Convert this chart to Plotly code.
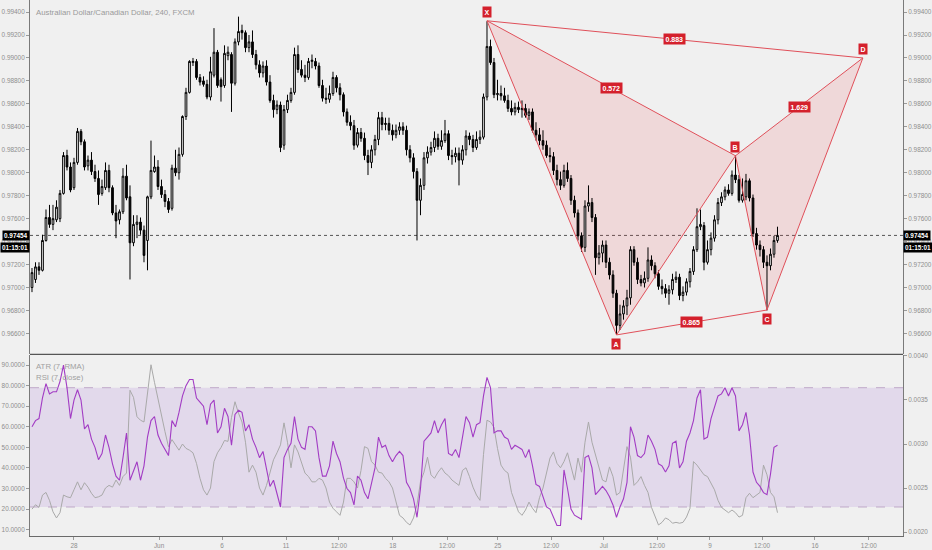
import plotly.graph_objects as go

title_text = "Australian Dollar/Canadian Dollar, 240, FXCM"
legend_texts = ["ATR (7, RMA)", "RSI (7, close)"]

# 4h candles, prices in units of 0.0001 (9700 -> 0.9700)
open_1e4 = [
    9700, 9707, 9718, 9715, 9741, 9761, 9755, 9759, 9760, 9782,
    9815, 9805, 9787, 9809, 9836, 9827, 9806, 9811, 9801, 9795,
    9782, 9787, 9802, 9787, 9765, 9759, 9766, 9797, 9779, 9739,
    9755, 9757, 9750, 9741, 9779, 9801, 9805, 9788, 9781, 9775,
    9769, 9804, 9800, 9816, 9849, 9870, 9896, 9897, 9883, 9880,
    9877, 9866, 9885, 9905, 9881, 9876, 9902, 9903, 9878, 9914,
    9924, 9922, 9909, 9914, 9903, 9894, 9887, 9893, 9879, 9863,
    9855, 9859, 9824, 9855, 9863, 9870, 9903, 9890, 9885, 9883,
    9897, 9897, 9893, 9876, 9865, 9864, 9869, 9883, 9874, 9868,
    9853, 9844, 9841, 9824, 9835, 9830, 9815, 9809, 9820, 9829,
    9848, 9842, 9843, 9837, 9833, 9837, 9840, 9837, 9820, 9813,
    9801, 9776, 9789, 9813, 9818, 9822, 9830, 9823, 9828, 9834,
    9815, 9814, 9817, 9811, 9820, 9832, 9829, 9822, 9829, 9831,
    9866, 9910, 9896, 9868, 9869, 9867, 9863, 9856, 9853, 9857,
    9855, 9856, 9850, 9853, 9837, 9833, 9828, 9824, 9815, 9814,
    9802, 9794, 9789, 9802, 9795, 9776, 9765, 9745, 9735, 9771,
    9774, 9761, 9726, 9730, 9737, 9722, 9711, 9695, 9667, 9677,
    9684, 9691, 9733, 9722, 9707, 9704, 9708, 9724, 9719, 9712,
    9701, 9699, 9695, 9698, 9707, 9709, 9693, 9696, 9705, 9714,
    9733, 9753, 9754, 9722, 9733, 9743, 9759, 9774, 9779, 9785,
    9782, 9798, 9794, 9776, 9779, 9793, 9778, 9747, 9737, 9733,
    9722, 9719, 9729, 9741,
]
high_1e4 = [
    9717, 9722, 9722, 9746, 9768, 9772, 9772, 9776, 9785, 9818,
    9820, 9809, 9813, 9839, 9838, 9829, 9815, 9818, 9807, 9802,
    9794, 9809, 9807, 9789, 9772, 9768, 9804, 9807, 9789, 9763,
    9763, 9761, 9754, 9780, 9828, 9815, 9811, 9794, 9785, 9778,
    9807, 9820, 9822, 9850, 9874, 9898, 9900, 9899, 9886, 9884,
    9881, 9901, 9926, 9907, 9883, 9911, 9910, 9905, 9917, 9936,
    9929, 9924, 9920, 9924, 9907, 9898, 9897, 9898, 9885, 9868,
    9863, 9862, 9859, 9868, 9874, 9909, 9911, 9898, 9894, 9900,
    9903, 9900, 9896, 9881, 9874, 9876, 9888, 9885, 9878, 9870,
    9856, 9850, 9846, 9839, 9839, 9835, 9820, 9824, 9833, 9853,
    9853, 9848, 9848, 9842, 9842, 9844, 9844, 9841, 9824, 9817,
    9804, 9795, 9818, 9823, 9827, 9836, 9834, 9837, 9846, 9837,
    9820, 9822, 9822, 9824, 9837, 9835, 9833, 9836, 9837, 9869,
    9932, 9916, 9900, 9881, 9876, 9874, 9868, 9863, 9861, 9862,
    9863, 9860, 9856, 9856, 9844, 9839, 9837, 9828, 9822, 9818,
    9807, 9801, 9807, 9809, 9798, 9780, 9768, 9748, 9776, 9789,
    9778, 9764, 9737, 9741, 9741, 9726, 9715, 9698, 9685, 9689,
    9698, 9736, 9736, 9726, 9711, 9714, 9735, 9728, 9722, 9715,
    9707, 9703, 9702, 9712, 9714, 9712, 9701, 9708, 9717, 9736,
    9769, 9768, 9757, 9741, 9748, 9763, 9778, 9783, 9788, 9790,
    9802, 9815, 9798, 9795, 9799, 9795, 9781, 9752, 9741, 9736,
    9728, 9734, 9745, 9753,
]
low_1e4 = [
    9696, 9704, 9711, 9714, 9740, 9752, 9750, 9757, 9757, 9781,
    9802, 9783, 9785, 9807, 9824, 9802, 9802, 9798, 9792, 9772,
    9780, 9785, 9783, 9763, 9743, 9755, 9764, 9776, 9707, 9736,
    9743, 9746, 9722, 9715, 9777, 9800, 9785, 9778, 9770, 9765,
    9767, 9797, 9794, 9814, 9846, 9869, 9893, 9881, 9876, 9875,
    9864, 9863, 9883, 9874, 9862, 9874, 9898, 9853, 9876, 9911,
    9916, 9905, 9905, 9900, 9890, 9883, 9883, 9876, 9861, 9848,
    9851, 9818, 9820, 9852, 9861, 9868, 9887, 9883, 9879, 9881,
    9891, 9890, 9874, 9862, 9860, 9861, 9867, 9870, 9863, 9849,
    9841, 9837, 9820, 9822, 9827, 9811, 9798, 9804, 9815, 9824,
    9837, 9837, 9833, 9828, 9830, 9833, 9833, 9815, 9809, 9795,
    9741, 9763, 9785, 9808, 9815, 9818, 9820, 9820, 9826, 9811,
    9807, 9809, 9789, 9807, 9815, 9824, 9818, 9820, 9825, 9829,
    9863, 9894, 9865, 9863, 9863, 9861, 9853, 9850, 9850, 9852,
    9848, 9848, 9846, 9835, 9828, 9824, 9820, 9813, 9809, 9798,
    9789, 9785, 9787, 9792, 9772, 9761, 9741, 9731, 9731, 9766,
    9757, 9711, 9720, 9722, 9717, 9707, 9691, 9659, 9663, 9672,
    9676, 9685, 9719, 9703, 9701, 9700, 9705, 9715, 9708, 9698,
    9694, 9691, 9685, 9694, 9704, 9689, 9688, 9693, 9700, 9711,
    9731, 9750, 9715, 9720, 9728, 9740, 9755, 9771, 9776, 9780,
    9780, 9791, 9774, 9774, 9776, 9775, 9744, 9733, 9727, 9717,
    9680, 9715, 9726, 9739,
]
close_1e4 = [
    9713, 9718, 9715, 9741, 9761, 9755, 9760, 9770, 9782, 9815,
    9805, 9785, 9809, 9836, 9827, 9805, 9811, 9801, 9795, 9781,
    9788, 9802, 9787, 9765, 9758, 9766, 9797, 9778, 9739, 9755,
    9757, 9750, 9728, 9779, 9802, 9805, 9788, 9781, 9775, 9768,
    9804, 9800, 9816, 9849, 9870, 9897, 9897, 9883, 9879, 9877,
    9866, 9888, 9905, 9876, 9875, 9904, 9905, 9878, 9914, 9923,
    9922, 9909, 9914, 9903, 9894, 9887, 9893, 9879, 9863, 9855,
    9859, 9822, 9855, 9863, 9870, 9903, 9890, 9885, 9883, 9897,
    9898, 9893, 9876, 9865, 9864, 9869, 9883, 9874, 9868, 9853,
    9844, 9841, 9824, 9835, 9830, 9815, 9809, 9820, 9829, 9848,
    9842, 9843, 9837, 9833, 9837, 9840, 9837, 9820, 9813, 9801,
    9776, 9789, 9813, 9818, 9822, 9830, 9823, 9828, 9834, 9815,
    9814, 9817, 9811, 9820, 9832, 9829, 9822, 9829, 9831, 9866,
    9910, 9896, 9868, 9869, 9867, 9863, 9856, 9853, 9857, 9855,
    9856, 9850, 9853, 9837, 9833, 9828, 9824, 9815, 9814, 9802,
    9794, 9789, 9802, 9795, 9776, 9765, 9745, 9735, 9771, 9774,
    9761, 9726, 9730, 9737, 9722, 9711, 9695, 9667, 9677, 9684,
    9691, 9733, 9722, 9707, 9704, 9708, 9724, 9719, 9712, 9701,
    9699, 9695, 9698, 9707, 9709, 9693, 9696, 9705, 9714, 9733,
    9753, 9755, 9722, 9733, 9743, 9759, 9774, 9779, 9785, 9782,
    9798, 9794, 9776, 9781, 9793, 9778, 9747, 9737, 9733, 9722,
    9719, 9729, 9741, 9745.4,
]
last_price_label = "0.97454"
countdown_label = "01:15:01"

rsi_values = [
    60, 63, 64, 74, 81, 76, 77, 77, 82, 90,
    79, 64, 73, 78, 73, 59, 61, 54, 50, 44,
    47, 56, 50, 42, 36, 34, 45, 57, 34, 39,
    43, 34, 41, 55, 63, 65, 56, 52, 49, 46,
    63, 60,
    67, 75, 80, 83, 83, 74, 72, 70, 61, 71,
    73, 57, 60, 69, 65, 51, 66, 68, 67, 58,
    61, 54, 50, 45, 48, 40, 31, 34, 28, 21,
    45, 49, 52, 65, 54, 50, 49, 60, 60, 58,
    45, 36, 36, 41, 53, 47, 43, 35, 30, 28,
    22, 36, 34, 28, 25, 33, 40, 55, 50, 51,
    46, 43, 46, 48, 46, 33, 30, 25, 16, 30,
    53, 55, 57, 63, 57, 61, 64, 47, 46, 49,
    45, 55, 65, 62, 55, 61, 62, 75, 84, 79,
    57, 58, 58,
    55, 54, 49, 51, 50, 49, 45, 49, 41, 32,
    31, 26, 21, 20, 16, 12, 12, 39, 30, 20,
    17, 16, 15, 45, 46, 40, 27, 29, 31, 29,
    26, 22, 16, 21, 25, 33, 60, 55, 46, 45,
    47, 56, 53, 49, 42, 41, 38, 41, 52, 53,
    40, 43, 53, 57, 63, 74, 78, 54, 55, 64,
    70, 75, 76, 79, 75, 79, 75, 58, 61, 67,
    56, 38, 33, 31, 28, 27, 37, 50, 51,
]
atr_values = [
    0.00226, 0.00231, 0.00228, 0.00242, 0.00245, 0.00236, 0.00223, 0.00216, 0.00222, 0.00242,
    0.00240, 0.00239, 0.00248, 0.00257, 0.00248, 0.00256, 0.00251, 0.00244, 0.00239, 0.00240,
    0.00242, 0.00250, 0.00253, 0.00251, 0.00259, 0.00253, 0.00263, 0.00267, 0.00361, 0.00353,
    0.00331, 0.00327, 0.00325, 0.00358, 0.00390, 0.00370, 0.00350, 0.00331, 0.00314, 0.00297,
    0.00305, 0.00299,
    0.00293, 0.00300, 0.00295, 0.00293, 0.00290, 0.00278, 0.00261, 0.00248, 0.00242, 0.00250,
    0.00280, 0.00290, 0.00296, 0.00304, 0.00303, 0.00330, 0.00348, 0.00335, 0.00325, 0.00302,
    0.00268, 0.00276, 0.00268, 0.00250, 0.00242, 0.00253, 0.00267, 0.00282, 0.00290, 0.00299,
    0.00324, 0.00302, 0.00273, 0.00299, 0.00291, 0.00280, 0.00267, 0.00263, 0.00257, 0.00257,
    0.00261, 0.00259, 0.00250, 0.00234, 0.00227, 0.00223, 0.00219, 0.00234, 0.00261, 0.00261,
    0.00257, 0.00250, 0.00270, 0.00297, 0.00295, 0.00280, 0.00276, 0.00268, 0.00267, 0.00261,
    0.00257, 0.00250, 0.00234, 0.00219, 0.00216, 0.00211, 0.00208, 0.00216, 0.00231, 0.00257,
    0.00268, 0.00285, 0.00265, 0.00261, 0.00268, 0.00273, 0.00267, 0.00264, 0.00259, 0.00256,
    0.00253, 0.00270, 0.00273, 0.00263, 0.00251, 0.00242, 0.00236, 0.00288, 0.00327,
    0.00325, 0.00319, 0.00295, 0.00276, 0.00270, 0.00267, 0.00245, 0.00233, 0.00223, 0.00219,
    0.00225, 0.00234, 0.00227, 0.00222, 0.00239, 0.00250, 0.00268, 0.00284, 0.00291, 0.00278,
    0.00273, 0.00280, 0.00290, 0.00273, 0.00259, 0.00284, 0.00268, 0.00302, 0.00325, 0.00302,
    0.00288, 0.00274, 0.00259, 0.00257, 0.00274, 0.00263, 0.00242, 0.00245, 0.00273, 0.00297,
    0.00285, 0.00253, 0.00257, 0.00263, 0.00253, 0.00245, 0.00228, 0.00219, 0.00208, 0.00211,
    0.00216, 0.00214, 0.00210, 0.00211, 0.00210, 0.00211, 0.00217, 0.00227, 0.00280, 0.00276,
    0.00270, 0.00265, 0.00263, 0.00256, 0.00248, 0.00236, 0.00228, 0.00225, 0.00222, 0.00225,
    0.00222, 0.00217, 0.00219, 0.00239, 0.00244, 0.00239, 0.00242, 0.00245, 0.00276, 0.00265,
    0.00245, 0.00240, 0.00222,
]
rsi_band = [21, 79]

x_tick_positions = [12, 36.3, 54.3, 72.6, 87.7, 103.1, 118.6, 133.1, 148.3, 163.4, 178.6, 193.7, 208.6, 223.7, 239.1]
x_tick_labels = ["28", "Jun", "6", "11", "12:00", "18", "12:00", "25", "12:00", "Jul", "12:00", "9", "12:00", "16", "12:00"]
price_ticks = [0.966, 0.968, 0.970, 0.972, 0.974, 0.976, 0.978, 0.980, 0.982, 0.984, 0.986, 0.988, 0.990, 0.992, 0.994]
rsi_ticks = [10, 20, 30, 40, 50, 60, 70, 80, 90]
atr_ticks = [0.0020, 0.0025, 0.0030, 0.0035, 0.0040]

pattern_names = ["X", "A", "B", "C", "D"]
pattern_bars = [130, 167, 201, 210, 237.4]
pattern_prices = [0.99324, 0.96587, 0.98148, 0.96804, 0.99000]
ratio_pairs = [("X", "B"), ("X", "D"), ("B", "D"), ("A", "C")]
ratio_labels = ["0.572", "0.883", "1.629", "0.865"]

# ---------------------------------------------------------------------------
SCALE = 10000.0
opens = [v / SCALE for v in open_1e4]
highs = [v / SCALE for v in high_1e4]
lows = [v / SCALE for v in low_1e4]
closes = [v / SCALE for v in close_1e4]
n = min(len(opens), len(highs), len(lows), len(closes))
bars = list(range(n))

FONT_FAM = "Liberation Sans, Arial, sans-serif"
TICK_FONT = dict(family=FONT_FAM, size=6.4, color="#8e8e8e")
BG = "#f0f0f0"
PAT_LINE = "#e0505a"
PAT_FILL = "rgba(235, 70, 80, 0.14)"
PAT_BOX = "#d4202c"

fig = go.Figure()

pts = {nm: (bx, pr) for nm, bx, pr in zip(pattern_names, pattern_bars, pattern_prices)}


def tri_path(a, b, c):
    p = [pts[a], pts[b], pts[c]]
    return "M{},{} L{},{} L{},{} Z".format(p[0][0], p[0][1], p[1][0], p[1][1], p[2][0], p[2][1])


shapes = []
for tri in (("X", "A", "B"), ("B", "C", "D")):
    shapes.append(dict(type="path", xref="x", yref="y", path=tri_path(*tri),
                       fillcolor=PAT_FILL, line=dict(width=0), layer="below"))

# current price dotted line
shapes.append(dict(type="line", xref="paper", x0=0, x1=1, yref="y",
                   y0=closes[n - 1], y1=closes[n - 1],
                   line=dict(color="#555555", width=1, dash="dot"), layer="below"))
# RSI band
shapes.append(dict(type="rect", xref="paper", x0=0, x1=1, yref="y4",
                   y0=rsi_band[0], y1=rsi_band[1],
                   fillcolor="rgba(150, 90, 210, 0.15)", line=dict(width=0), layer="below"))
for lvl in rsi_band:
    shapes.append(dict(type="line", xref="paper", x0=0, x1=1, yref="y4", y0=lvl, y1=lvl,
                       line=dict(color="#bfa9c9", width=1, dash="dash"), layer="below"))
# pane separator
shapes.append(dict(type="line", xref="paper", x0=0, x1=1, yref="paper", y0=0.3387, y1=0.3387,
                   line=dict(color="#555555", width=1.2)))

fig.add_trace(go.Candlestick(
    x=bars, open=opens[:n], high=highs[:n], low=lows[:n], close=closes[:n],
    increasing=dict(line=dict(color="#000000", width=1), fillcolor="#ffffff"),
    decreasing=dict(line=dict(color="#000000", width=1), fillcolor="#000000"),
    whiskerwidth=0, xaxis="x", yaxis="y", hoverinfo="skip", showlegend=False,
))

# pattern outlines
for seq in (("X", "A", "B", "X"), ("B", "C", "D", "B"), ("X", "D"), ("A", "C")):
    fig.add_trace(go.Scatter(
        x=[pts[s][0] for s in seq], y=[pts[s][1] for s in seq], mode="lines",
        line=dict(color=PAT_LINE, width=1), xaxis="x", yaxis="y",
        hoverinfo="skip", showlegend=False,
    ))

# invisible trace to carry the right-hand price axis
fig.add_trace(go.Scatter(x=[bars[-1]], y=[closes[n - 1]], mode="markers",
                         marker=dict(opacity=0), xaxis="x", yaxis="y2",
                         hoverinfo="skip", showlegend=False))

# indicators
fig.add_trace(go.Scatter(x=list(range(len(atr_values))), y=atr_values, mode="lines",
                         line=dict(color="#a9a9a9", width=1), xaxis="x2", yaxis="y3",
                         hoverinfo="skip", showlegend=False))
fig.add_trace(go.Scatter(x=list(range(len(rsi_values))), y=rsi_values, mode="lines",
                         line=dict(color="#a23cc4", width=1.1), xaxis="x2", yaxis="y4",
                         hoverinfo="skip", showlegend=False))

annotations = []
annotations.append(dict(text=title_text, xref="paper", yref="paper", x=0, y=1,
                        xanchor="left", yanchor="top", xshift=4, yshift=-6, showarrow=False,
                        font=dict(family=FONT_FAM, size=7.8, color="#9a9a9a")))
for k, txt in enumerate(legend_texts):
    annotations.append(dict(text=txt, xref="paper", yref="paper", x=0, y=0.3387,
                            xanchor="left", yanchor="top", xshift=4, yshift=-6 - 11 * k,
                            showarrow=False,
                            font=dict(family=FONT_FAM, size=7.8, color="#a0a0a0")))
for side_x, anchor in ((0, "right"), (1, "left")):
    annotations.append(dict(text="<b>" + last_price_label + "</b>", xref="paper", yref="y",
                            x=side_x, y=closes[n - 1], xanchor=anchor, yanchor="middle",
                            showarrow=False, bgcolor="#000000", borderpad=1,
                            font=dict(family=FONT_FAM, size=6.4, color="#ffffff")))
    annotations.append(dict(text="<b>" + countdown_label + "</b>", xref="paper", yref="y",
                            x=side_x, y=closes[n - 1], xanchor=anchor, yanchor="middle", yshift=-12,
                            showarrow=False, bgcolor="#000000", borderpad=1,
                            font=dict(family=FONT_FAM, size=6.4, color="#ffffff")))
for nm in pattern_names:
    bx, pr = pts[nm]
    is_low = nm in ("A", "C")
    annotations.append(dict(text="<b>" + nm + "</b>", x=bx, y=pr, xref="x", yref="y",
                            yanchor="top" if is_low else "bottom", yshift=-3 if is_low else 3,
                            showarrow=False, bgcolor=PAT_BOX, borderpad=1.5,
                            font=dict(family=FONT_FAM, size=7, color="#ffffff")))
for (a, b), txt in zip(ratio_pairs, ratio_labels):
    mx = (pts[a][0] + pts[b][0]) / 2
    my = (pts[a][1] + pts[b][1]) / 2
    annotations.append(dict(text="<b>" + txt + "</b>", x=mx, y=my, xref="x", yref="y",
                            showarrow=False, bgcolor=PAT_BOX, borderpad=1.5,
                            font=dict(family=FONT_FAM, size=7, color="#ffffff")))

x_range = [-0.57, 248.86]
main_dom = [0.3396, 1.0]
low_dom = [0.0, 0.3377]
axis_common = dict(showgrid=False, zeroline=False, ticks="outside", ticklen=3,
                   tickcolor="#9a9a9a", tickfont=TICK_FONT, showline=True, linecolor="#7a7a7a",
                   linewidth=1, automargin=False)

fig.update_layout(
    width=932, height=550,
    margin=dict(l=30, r=29, t=0, b=14, autoexpand=False),
    paper_bgcolor=BG, plot_bgcolor=BG,
    showlegend=False, hovermode=False,
    shapes=shapes, annotations=annotations,
    xaxis=dict(domain=[0, 1], anchor="y", range=x_range, showticklabels=False,
               showgrid=False, zeroline=False, ticks="", showline=False,
               rangeslider=dict(visible=False), automargin=False),
    xaxis2=dict(domain=[0, 1], anchor="y3", matches="x", range=x_range,
                tickmode="array", tickvals=x_tick_positions, ticktext=x_tick_labels,
                showgrid=False, zeroline=False, ticks="outside", ticklen=3, tickcolor="#9a9a9a",
                tickfont=TICK_FONT, showline=True, linecolor="#6a6a6a", linewidth=1.2,
                automargin=False),
    yaxis=dict(domain=main_dom, anchor="x", range=[0.96421, 0.99505], side="left",
               tickmode="array", tickvals=price_ticks, tickformat=".5f", **axis_common),
    yaxis2=dict(domain=main_dom, anchor="x", overlaying="y", side="right",
                range=[0.96421, 0.99505], tickmode="array", tickvals=price_ticks,
                tickformat=".5f", **axis_common),
    yaxis3=dict(domain=low_dom, anchor="x2", side="right", range=[0.001955, 0.004011],
                tickmode="array", tickvals=atr_ticks, tickformat=".4f", **axis_common),
    yaxis4=dict(domain=low_dom, anchor="x2", overlaying="y3", side="left", range=[6.9, 94.9],
                tickmode="array", tickvals=rsi_ticks, tickformat=".4f", **axis_common),
)

fig.write_html(
    "out.html",
    config={"displayModeBar": False, "staticPlot": True},
    post_script="document.body.style.margin='0';document.body.style.overflow='hidden';",
)
